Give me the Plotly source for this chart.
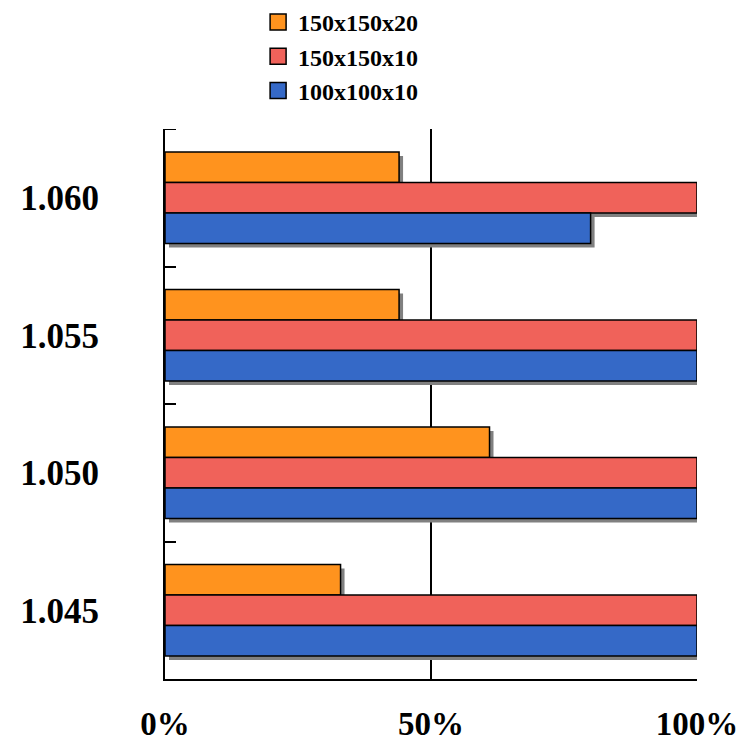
import plotly.graph_objects as go

categories = ["1.045", "1.050", "1.055", "1.060"]
series_names = ["150x150x20", "150x150x10", "100x100x10"]
values_150x150x20 = [33, 61, 44, 44]
values_150x150x10 = [100, 100, 100, 100]
values_100x100x10 = [100, 100, 100, 80]
x_tick_vals = [0, 50, 100]
x_tick_text = ["0%", "50%", "100%"]

colors = ["#FF931E", "#F0625A", "#3569C7"]
series_values = [values_150x150x20, values_150x150x10, values_100x100x10]
offsets = [0.111, -0.111, -0.333]
bar_w = 0.222
shadow_dx = 0.75
shadow_dy = 0.029

FONT = "Liberation Serif, Times New Roman, serif"

fig = go.Figure()

# shadows first
for vals, off in zip(series_values, offsets):
    fig.add_trace(go.Bar(
        y=categories, x=vals, base=shadow_dx, orientation="h",
        offset=off - shadow_dy, width=bar_w,
        marker=dict(color="#808080", line=dict(width=0)),
        showlegend=False, hoverinfo="skip",
    ))

for name, vals, off, col in zip(series_names, series_values, offsets, colors):
    fig.add_trace(go.Bar(
        y=categories, x=vals, orientation="h", name=name,
        offset=off, width=bar_w,
        marker=dict(color=col, line=dict(color="black", width=1.5)),
        showlegend=False,
    ))

# legend entries
for i, (name, col) in enumerate(zip(series_names, colors)):
    fig.add_trace(go.Scatter(
        x=[None], y=[None], mode="markers", name=name,
        marker=dict(symbol="square", size=16, color=col,
                    line=dict(color="black", width=1.5)),
    ))

# tick mark at the top boundary of the category axis
fig.add_shape(type="line", xref="paper", yref="y",
              x0=0, x1=11 / 532, y0=3.5, y1=3.5,
              line=dict(color="black", width=2))

fig.update_layout(
    width=746, height=745,
    margin=dict(l=165, r=49, t=129, b=66),
    barmode="overlay",
    plot_bgcolor="white", paper_bgcolor="white",
    font=dict(family=FONT, color="black"),
    showlegend=True,
    legend=dict(
        x=0.175, xanchor="left", y=1, yref="container", yanchor="top",
        font=dict(size=24, family=FONT, weight="bold"),
        tracegroupgap=0, bgcolor="rgba(0,0,0,0)",
    ),
    xaxis=dict(
        range=[0, 100], tickvals=x_tick_vals, ticktext=x_tick_text,
        showgrid=True, gridcolor="black", gridwidth=1.5,
        zeroline=False, showline=True, linecolor="black", linewidth=2,
        ticks="", tickfont=dict(size=33, family=FONT, weight="bold"),
        ticklabelstandoff=14, automargin=False,
    ),
    yaxis=dict(
        type="category", categoryorder="array", categoryarray=categories,
        range=[-0.5, 3.5],
        showgrid=False, zeroline=False, showline=True, linecolor="black",
        linewidth=2, ticks="inside", tickson="boundaries", ticklen=11,
        tickwidth=2, tickcolor="black",
        tickfont=dict(size=35, family=FONT, weight="bold"),
        ticklabelstandoff=57, automargin=False,
    ),
)

fig.write_html("out.html")
